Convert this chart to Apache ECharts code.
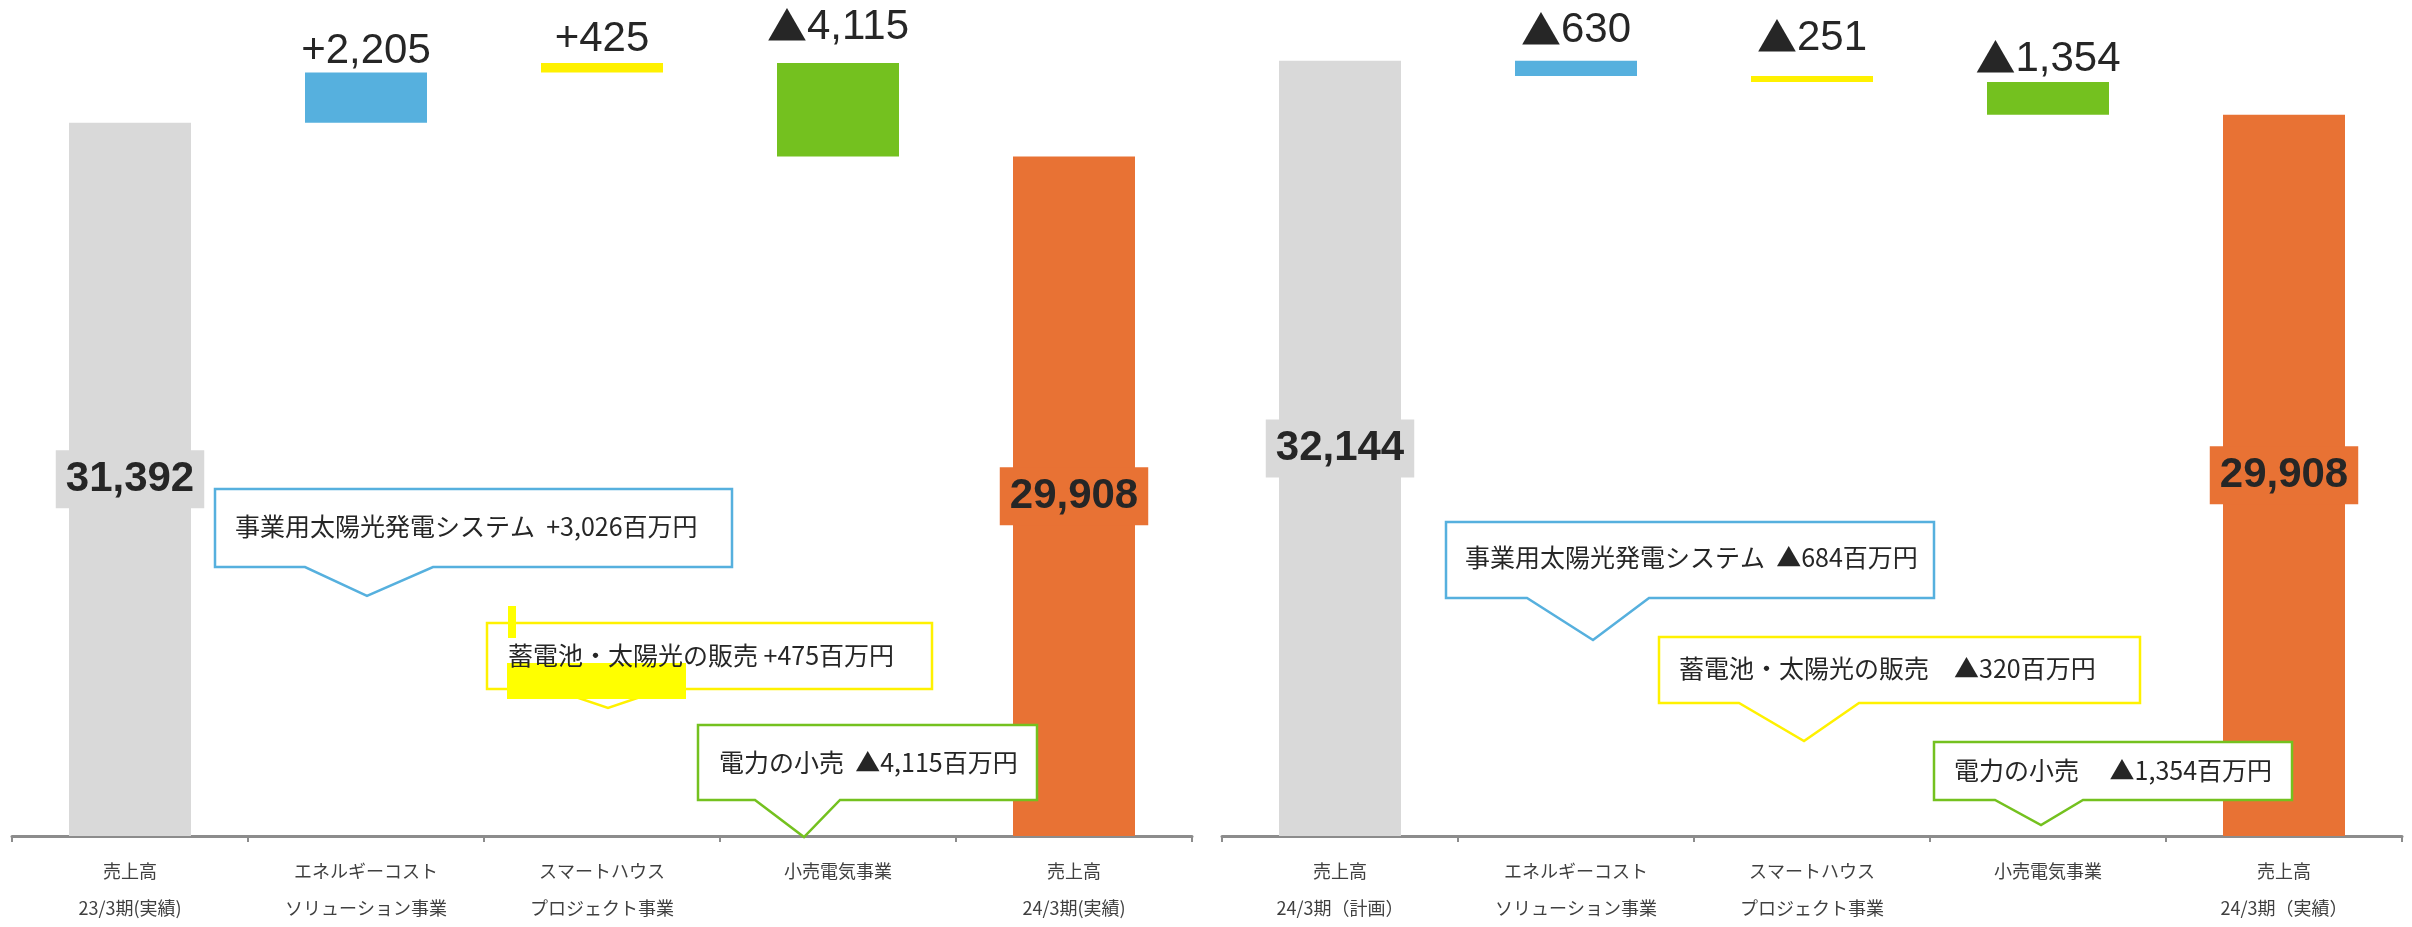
<!DOCTYPE html>
<html><head><meta charset="utf-8">
<script src="https://cdn.jsdelivr.net/npm/echarts@6/dist/echarts.min.js"></script>
<style>html,body{margin:0;padding:0;background:#fff;}#c{width:2412px;height:927px;}</style>
</head><body><div id="c"></div>
<script>
// ---------- data ----------
const leftCategories = ['売上高\n23/3期(実績)', 'エネルギーコスト\nソリューション事業', 'スマートハウス\nプロジェクト事業', '小売電気事業', '売上高\n24/3期(実績)'];
const rightCategories = ['売上高\n24/3期（計画）', 'エネルギーコスト\nソリューション事業', 'スマートハウス\nプロジェクト事業', '小売電気事業', '売上高\n24/3期（実績）'];
// first and last are totals, the middle ones are changes
const leftSteps = [31392, 2205, 425, -4115, 29908];
const rightSteps = [32144, -630, -251, -1354, 29908];
const leftLabels = ['31,392', '+2,205', '+425', '▲4,115', '29,908'];
const rightLabels = ['32,144', '▲630', '▲251', '▲1,354', '29,908'];
const leftNotes = ['事業用太陽光発電システム  +3,026百万円', '蓄電池・太陽光の販売 +475百万円', '電力の小売  ▲4,115百万円'];
const rightNotes = ['事業用太陽光発電システム  ▲684百万円', '蓄電池・太陽光の販売　▲320百万円', '電力の小売　 ▲1,354百万円'];

// ---------- styles / layout ----------
const barColors = ['#d9d9d9', '#56b0de', '#fff100', '#74c11f', '#e87234'];
const noteColors = ['#56b0de', '#fff100', '#74c11f'];
const leftLabelGap = [0, 0, 3, 15, 0];
const rightLabelGap = [0, 9, 17, 2, 0];
const TXT = '#262626';
const NUMFONT = '"Liberation Sans", Arial, sans-serif';
const JPFONT = '"Noto Sans CJK JP", "Noto Sans", sans-serif';

function waterfall(steps) {
  const base = [], val = [];
  let run = 0;
  steps.forEach((d, i) => {
    if (i === 0 || i === steps.length - 1) { base.push(0); val.push(d); run = d; }
    else if (d >= 0) { base.push(run); val.push(d); run += d; }
    else { run += d; base.push(run); val.push(-d); }
  });
  return { base, val };
}

function makeSeries(steps, labels, gaps, idx) {
  const w = waterfall(steps);
  const last = steps.length - 1;
  const items = w.val.map((v, i) => {
    const total = (i === 0 || i === last);
    return {
      value: v,
      itemStyle: { color: barColors[i] },
      label: total ? {
        show: true, position: 'inside', formatter: labels[i],
        fontFamily: NUMFONT, fontSize: 42, fontWeight: 'bold', color: TXT,
        backgroundColor: barColors[i], padding: [8, 10], lineHeight: 42
      } : {
        show: true, position: 'top', distance: gaps[i],
        formatter: labels[i].replace('▲', '{t|▲}'),
        fontFamily: NUMFONT, fontSize: 42, color: TXT,
        rich: { t: { fontFamily: JPFONT, fontSize: 40, color: TXT, padding: [0, 0, 2, 0] } }
      }
    };
  });
  return [
    { type: 'bar', xAxisIndex: idx, yAxisIndex: idx, stack: 's' + idx, data: w.base,
      itemStyle: { color: 'rgba(0,0,0,0)' }, barWidth: 122, silent: true, animation: false },
    { type: 'bar', xAxisIndex: idx, yAxisIndex: idx, stack: 's' + idx, data: items,
      barWidth: 122, animation: false }
  ];
}

function xAxisFor(cats, idx) {
  return {
    type: 'category', gridIndex: idx, data: cats,
    axisLine: { lineStyle: { color: '#8c8c8c', width: 3 } },
    axisTick: { show: true, length: 6, lineStyle: { color: '#8c8c8c', width: 2 } },
    axisLabel: { fontFamily: JPFONT, fontSize: 18, color: '#404040', lineHeight: 37, margin: 17, interval: 0 }
  };
}

function callout(r, bx1, bx2, tx, ty, color, text, textX, textY) {
  return [
    { type: 'polygon', z: 10,
      shape: { points: [[r[0], r[1]], [r[2], r[1]], [r[2], r[3]], [bx2, r[3]], [tx, ty], [bx1, r[3]], [r[0], r[3]]] },
      style: { fill: '#ffffff', stroke: color, lineWidth: 2.5 } },
    { type: 'text', z: 12, x: textX, y: textY,
      style: { text: text, font: '25px ' + JPFONT, fill: TXT, align: 'left', verticalAlign: 'middle', textAlign: 'left', textVerticalAlign: 'middle' } }
  ];
}

const graphics = [].concat(
  callout([215, 489, 732, 567], 305, 433, 367, 596, noteColors[0], leftNotes[0], 235, 526),
  callout([487, 623, 932, 689], 552, 664, 608, 708, noteColors[1], leftNotes[1], 508, 655),
  callout([698, 725, 1037, 800], 755, 840, 804, 837, noteColors[2], leftNotes[2], 719, 762),
  callout([1446, 522, 1934, 598], 1527, 1649, 1593, 640, noteColors[0], rightNotes[0], 1465, 557),
  callout([1659, 637, 2140, 703], 1739, 1859, 1804, 741, noteColors[1], rightNotes[1], 1679, 668),
  callout([1934, 742, 2292, 800], 1995, 2083, 2041, 825, noteColors[2], rightNotes[2], 1954, 770),
  [
    { type: 'rect', z: 11, shape: { x: 507, y: 663, width: 179, height: 36 }, style: { fill: '#ffff00' } },
    { type: 'rect', z: 11, shape: { x: 508, y: 606, width: 8, height: 32 }, style: { fill: '#ffff00' } }
  ]
);

const chart = echarts.init(document.getElementById('c'), null, { renderer: 'canvas' });
chart.setOption({
  backgroundColor: '#ffffff',
  animation: false,
  grid: [
    { left: 12, top: 18, width: 1180, height: 827 },
    { left: 1222, top: 16, width: 1180, height: 832 }
  ],
  xAxis: [xAxisFor(leftCategories, 0), xAxisFor(rightCategories, 1)],
  yAxis: [
    { type: 'value', gridIndex: 0, min: 0, max: 36000, show: false, splitLine: { show: false } },
    { type: 'value', gridIndex: 1, min: 0, max: 34000, show: false, splitLine: { show: false } }
  ],
  series: [].concat(makeSeries(leftSteps, leftLabels, leftLabelGap, 0), makeSeries(rightSteps, rightLabels, rightLabelGap, 1)),
  graphic: graphics
});
</script>
</body></html>
